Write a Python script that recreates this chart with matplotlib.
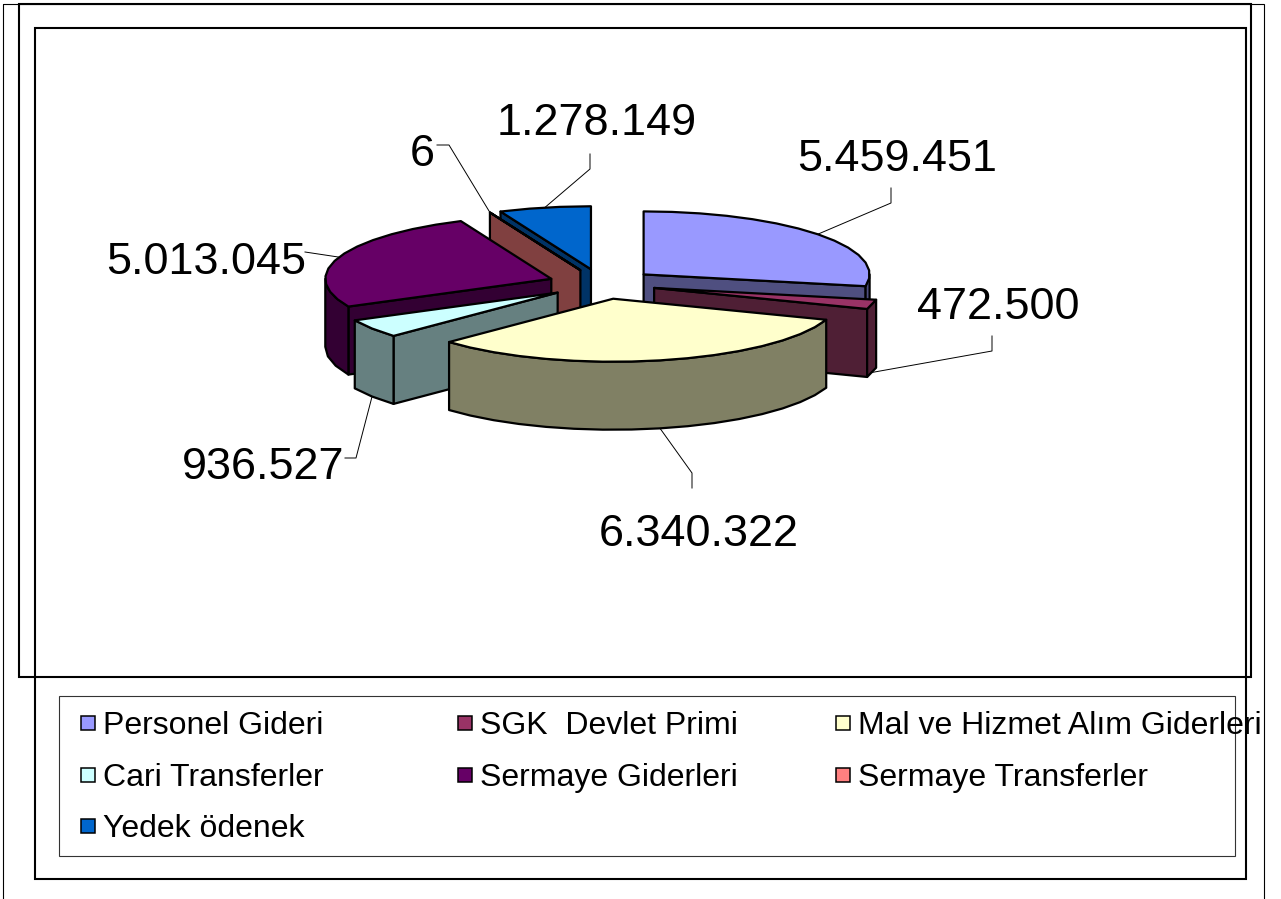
import numpy as np
import matplotlib
matplotlib.use('Agg')
import matplotlib.pyplot as plt
from matplotlib.patches import Rectangle

plt.rcParams['font.family'] = ['Liberation Sans', 'DejaVu Sans']

# data
categories = ['Personel Gideri', 'SGK  Devlet Primi', 'Mal ve Hizmet Alım Giderleri',
              'Cari Transferler', 'Sermaye Giderleri', 'Sermaye Transferler', 'Yedek ödenek']
values = [5459451, 472500, 6340322, 936527, 5013045, 6, 1278149]
value_labels = ['5.459.451', '472.500', '6.340.322', '936.527', '5.013.045', '6', '1.278.149']
top_colors = ['#9999FF', '#993366', '#FFFFCC', '#CCFFFF', '#660066', '#FF8080', '#0066CC']
side_colors = ['#4F4F80', '#4F1F35', '#808064', '#668080', '#330033', '#804040', '#003366']

# pie geometry in pixels
cx, cy = 602, 284
rx, ry = 226, 63
depth = 68
explode = 54
draw_order = [6, 5, 0, 4, 1, 3, 2]

# text anchor (x, baseline) and leader elbow points
label_pos = [(897, 171), (998, 319), (699, 546), (263, 479), (206, 274), (422, 166), (597, 135)]
leaders = [[(891, 188), (891, 203)], [(992, 336), (992, 351)], [(692, 488), (692, 473)],
           [(345, 458), (356, 458)], [(305, 252)], [(437, 145), (449, 145)], [(590, 154), (590, 169)]]

fig = plt.figure(figsize=(12.81, 8.99), dpi=100)
ax = fig.add_axes([0, 0, 1, 1])
ax.set_xlim(0, 1281)
ax.set_ylim(899, 0)
ax.axis('off')


def arc(x0, y0, t1, t2):
    n = max(int(abs(t2 - t1) / 7), 1) + 1
    t = np.radians(np.linspace(t1, t2, n))
    return x0 + rx * np.sin(t), y0 - ry * np.cos(t)


total = sum(values)
edges = np.concatenate([[0], np.cumsum(values) / total * 360])
mids = (edges[:-1] + edges[1:]) / 2
apex_x = cx + explode * np.sin(np.radians(mids))
apex_y = cy - explode * ry / rx * np.cos(np.radians(mids))

for i in draw_order:
    t1, t2 = edges[i], edges[i + 1]
    x0, y0 = apex_x[i], apex_y[i]
    # radial wall facing the viewer
    for t, sign in ((t1, -1), (t2, 1)):
        if sign * np.sin(np.radians(t)) > 1e-6:
            ex, ey = arc(x0, y0, t, t)
            ax.fill([x0, ex[0], ex[0], x0], [y0, ey[0], ey[0] + depth, y0 + depth],
                    fc=side_colors[i], ec='black', lw=1.6, joinstyle='round')
    # rim wall on the near half of the ellipse
    a, b = max(t1, 90), min(t2, 270)
    if b > a:
        xs, ys = arc(x0, y0, a, b)
        ax.fill(np.r_[xs, xs[::-1]], np.r_[ys, ys[::-1] + depth],
                fc=side_colors[i], ec='black', lw=1.6, joinstyle='round')
    # top of the slice
    xs, ys = arc(x0, y0, t1, t2)
    ax.fill(np.r_[x0, xs], np.r_[y0, ys], fc=top_colors[i], ec='black', lw=1.6, joinstyle='round')

# data labels with leader lines
for i in range(len(values)):
    ex, ey = arc(apex_x[i], apex_y[i], mids[i], mids[i])
    end_y = ey[0] + (depth if 90 < mids[i] < 270 else 0)
    pts = leaders[i] + [(ex[0], end_y)]
    ax.plot([p[0] for p in pts], [p[1] for p in pts], color='black', lw=0.7)
    ax.text(label_pos[i][0], label_pos[i][1], value_labels[i], fontsize=32.4,
            ha='center', va='baseline', color='black')

# frames
ax.add_patch(Rectangle((2.5, 4), 1261, 910, fill=False, ec='black', lw=0.8))
ax.add_patch(Rectangle((19, 4), 1232, 673, fill=False, ec='black', lw=1.5))
ax.add_patch(Rectangle((35, 28), 1211, 851, fill=False, ec='black', lw=1.5))

# legend
ax.add_patch(Rectangle((59, 696), 1176, 160, fc='none', ec='#333333', lw=0.8))
col_x = [81, 458, 836]
row_y = [723, 775, 826]
for i, name in enumerate(categories):
    x = col_x[i % 3]
    y = row_y[i // 3]
    ax.add_patch(Rectangle((x, y - 7.5), 14, 14, fc=top_colors[i], ec='black', lw=1.1))
    ax.text(x + 22, y + 11, name, fontsize=23, ha='left', va='baseline', color='black')

fig.savefig('out.png', dpi=100)
